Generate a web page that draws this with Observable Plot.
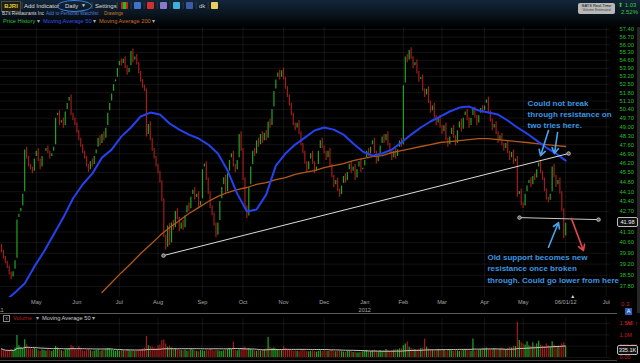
<!DOCTYPE html>
<html><head><meta charset="utf-8">
<script src="https://cdn.jsdelivr.net/npm/d3@7"></script>
<script src="https://cdn.jsdelivr.net/npm/@observablehq/plot@0.6"></script>
<style>
html,body{margin:0;padding:0;background:#000;}
#wrap{position:relative;width:640px;height:363px;overflow:hidden;background:#000;font-family:"Liberation Sans",Arial,sans-serif;}
.a{position:absolute;white-space:nowrap;line-height:1;}
#hdr{position:absolute;left:0;top:0;width:640px;height:27px;background:linear-gradient(to bottom,#13263a 0%,#0b1722 45%,#000 100%);}
.ic{position:absolute;top:2px;width:7px;height:7px;border-radius:1px;}
</style></head><body><div id="wrap">
<div id="hdr"></div>
<div class="a" style="left:1px;top:1px;width:18px;height:9px;background:#1e1c10;border:1px solid #4a4a3a;color:#e0cc3a;font-size:6px;font-weight:bold;text-align:center;line-height:9px;">BJRI</div>
<div class="a" style="left:21px;top:1px;color:#555;font-size:8px;">|</div>
<div class="a" style="left:24px;top:3px;color:#ddd;font-size:6px;">Add Indicator</div>
<div class="a" style="left:57px;top:0px;width:33px;height:10px;border:1.5px solid #3a86e8;border-radius:50%;"></div>
<div class="a" style="left:65px;top:3px;color:#ddd;font-size:6px;">Daily</div>
<div class="a" style="left:81px;top:3px;color:#ccc;font-size:5px;">▼</div>
<div class="a" style="left:91px;top:1px;color:#555;font-size:8px;">|</div>
<div class="a" style="left:95px;top:3px;color:#ddd;font-size:6px;">Settings</div>
<div class="a" style="left:116px;top:1px;color:#555;font-size:8px;">|</div>
<div class="ic" style="left:121px;background:linear-gradient(to right,#c22 0 33%,#2b2 33% 66%,#c22 66%);"></div>
<div class="a" style="left:130px;top:1px;color:#444;font-size:8px;">|</div>
<div class="ic" style="left:134px;background:#3f72c8;"></div>
<div class="a" style="left:143px;top:1px;color:#444;font-size:8px;">|</div>
<div class="ic" style="left:147px;background:#d03030;"></div>
<div class="a" style="left:156px;top:1px;color:#444;font-size:8px;">|</div>
<div class="ic" style="left:160px;background:#8a78c8;"></div>
<div class="a" style="left:169px;top:1px;color:#444;font-size:8px;">|</div>
<div class="ic" style="left:173px;background:#3db0e2;"></div>
<div class="a" style="left:182px;top:1px;color:#444;font-size:8px;">|</div>
<div class="ic" style="left:186px;background:#3b5ba8;"></div>
<div class="a" style="left:195px;top:1px;color:#444;font-size:8px;">|</div>
<div class="a" style="left:199px;top:3px;color:#ccc;font-size:6px;">dk</div>
<div class="a" style="left:207px;top:1px;color:#444;font-size:8px;">|</div>
<div class="ic" style="left:211px;background:#e8d060;"></div>
<div class="a" style="left:2px;top:12px;color:#ddd;font-size:4.6px;">BJ's Restaurants Inc</div>
<div class="a" style="left:46px;top:12px;color:#4d7fd6;font-size:4.6px;">Add to Personal Watchlist</div>
<div class="a" style="left:104px;top:12px;color:#c97a2a;font-size:4.6px;">Drawings</div>
<div class="a" style="left:3px;top:19px;color:#33bb33;font-size:5.7px;">Price History <span style="color:#aaa">▾</span></div>
<div class="a" style="left:43px;top:19px;color:#3050e6;font-size:5.7px;">Moving Average 50 <span style="color:#aaa">▾</span></div>
<div class="a" style="left:99px;top:19px;color:#c8701e;font-size:5.7px;">Moving Average 200 <span style="color:#aaa">▾</span></div>
<div class="a" style="left:578px;top:3px;width:37px;height:11px;background:#b8b8b8;border-radius:2px;text-align:center;">
  <div style="font-size:4px;color:#111;margin-top:1px;">BATS Real-Time</div>
  <div style="font-size:3.5px;color:#444;margin-top:1px;">Volume Estimated</div>
</div>
<div class="a" style="left:618px;top:2px;color:#34c834;font-size:6px;">⬆ 1.03</div>
<div class="a" style="left:621px;top:9px;color:#34c834;font-size:6px;">2.52%</div>
<div id="price" class="a" style="left:0;top:27px;"></div>
<div class="a" style="left:0;top:313px;width:617px;height:1px;background:#5a5a5a;"></div>
<div class="a" style="left:3px;top:315px;width:5px;height:5px;border:1px solid #888;color:#aaa;font-size:5px;line-height:5px;text-align:center;">x</div>
<div class="a" style="left:13px;top:316px;color:#b81c1c;font-size:5.7px;">Volume</div>
<div class="a" style="left:36px;top:316px;color:#aaa;font-size:5.7px;">▾</div>
<div class="a" style="left:42px;top:316px;color:#ccc;font-size:5.7px;">Moving Average 50 <span style="color:#aaa">▾</span></div>
<div id="vol" class="a" style="left:0;top:318px;"></div>
<div class="a" style="left:0;top:360px;width:617px;height:1px;background:#444;"></div>
<div class="a" style="left:621px;top:301px;color:#c42020;font-size:6px;">0.3</div>
<div class="a" style="left:625px;top:308px;width:7px;height:7px;background:#2d5fb8;color:#fff;font-size:5.5px;line-height:7px;text-align:center;">A</div>
<div class="a" style="left:637px;top:27px;width:3px;height:286px;background:#262626;"></div>
</div>
<script>
// ---- calendar (trading days per month, counted from 1 Apr 2011) ----
const monthTradingDays = [20,21,22,20,23,21,21,21,21,20,20,22,20,22,21,21];
const monthTickText = ["","May","Jun","Jul","Aug","Sep","Oct","Nov","Dec","Jan","Feb","Mar","Apr","May","06/01/12","Jul"];
const yearTickText  = ["2011","","","","","","","","","2012","","","","","",""];
const firstDataDay = 2;          // data start on the 3rd trading day of Apr 2011
const openingPrice = 40.4;

// ---- daily closes ----
const apr11 = [40.0,39.6,39.3,39.0,38.6,38.3,38.8,39.5,42.2,42.6,43.0,44.0,47.3,46.6,46.0,45.8,45.5,46.6];
const may11 = [47.2,46.4,45.8,46.8,47.0,47.4,47.0,46.6,47.0,47.5,49.8,50.2,49.2,49.6,49.0,50.3,51.0,51.5,50.0,49.6,49.2];
const jun11 = [48.6,48.0,47.5,47.0,46.6,46.0,45.6,46.4,46.0,46.8,47.3,48.2,47.6,48.5,48.0,49.0,50.2,51.0,51.8,52.6,53.0,54.0];
const jul11 = [54.6,54.2,54.8,54.0,53.4,54.0,55.5,54.5,55.0,54.3,53.5,52.8,52.3,52.0,48.3,49.3,48.0,47.2,46.6,46.0];
const aug11 = [45.5,44.8,43.5,41.0,40.2,41.8,40.5,42.0,41.5,42.8,42.2,41.4,42.0,41.5,42.5,43.2,42.8,43.8,44.3,43.6,44.0,43.0,43.5];
const sep11 = [45.8,46.2,45.0,44.0,43.0,42.5,41.8,41.0,42.0,43.5,44.5,45.2,44.0,45.5,46.5,47.0,46.0,45.6,46.5,48.5,47.2];
const oct11 = [45.0,43.0,42.3,44.5,46.0,47.2,46.8,48.0,47.5,48.5,47.8,48.6,48.0,49.5,49.0,50.5,52.0,53.0,53.6,53.0,53.8];
const nov11 = [53.0,52.2,51.5,50.8,50.0,49.2,48.8,49.4,48.5,47.6,47.0,46.2,45.6,46.4,47.0,46.2,45.5,46.0,47.2,48.0,47.4];
const dec11 = [47.0,46.5,47.2,46.0,45.2,44.5,45.0,44.2,43.8,44.6,45.3,44.8,45.6,46.2,45.5,46.0,45.0,45.8,46.4,45.6,45.9];
const jan12 = [46.5,47.2,46.8,47.5,48.0,47.0,46.2,46.8,47.6,48.3,47.8,48.5,47.6,47.0,46.5,47.2,46.6,47.3,48.0,47.5];
const feb12 = [52.5,55.0,54.5,55.6,54.8,54.0,54.5,53.5,52.8,53.2,52.0,51.5,52.2,51.0,50.2,50.8,49.8,49.2,49.8,49.0];
const mar12 = [48.5,49.2,48.0,47.5,48.3,49.0,48.2,47.6,48.8,49.5,48.7,49.8,50.3,49.6,49.0,49.8,50.5,49.8,49.2,50.0,50.6,50.2];
const apr12 = [50.8,51.3,50.2,49.5,48.8,49.3,48.5,47.8,48.4,47.6,47.2,47.8,47.0,46.5,47.1,46.2,46.6,43.8,44.2,43.2];
const may12 = [43.0,44.0,44.6,45.0,44.5,45.3,45.0,45.8,46.3,45.5,45.0,44.2,43.6,43.4,44.0,46.0,45.2,44.5,45.0,44.0,42.8,40.95];
const jun12 = [41.98];

// ---- daily volume (thousands) ----
const vApr11 = [380,320,260,310,290,350,300,420,970,520,430,400,780,560,420,380,350,400];
const vMay11 = [360,300,280,330,310,290,340,300,270,320,480,420,350,300,280,330,360,400,530,480,350];
const vJun11 = [330,480,360,300,280,320,350,300,260,290,310,330,280,300,320,350,400,380,330,300,280,310];
const vJul11 = [290,320,300,270,350,300,280,310,260,300,320,350,380,420,930,520,480,460,420,380];
const vAug11 = [520,560,750,770,600,450,500,420,380,400,350,330,310,300,320,280,300,350,330,300,280,260,310];
const vSep11 = [300,280,320,300,350,330,290,310,300,280,270,300,330,350,400,360,680,320,300,340,380];
const vOct11 = [420,450,380,400,350,330,300,280,310,290,320,350,380,880,450,400,420,380,350,330,310];
const vNov11 = [480,400,360,330,310,290,300,280,260,300,320,290,270,250,280,300,260,240,280,300,270];
const vDec11 = [300,280,260,290,310,270,250,280,300,260,240,230,260,280,250,220,240,200,210,230,250];
const vJan12 = [300,320,280,260,300,330,290,270,310,280,300,350,320,280,300,330,360,340,380,400];
const vFeb12 = [520,600,680,450,400,380,350,330,360,400,420,820,450,380,350,330,300,340,360,320];
const vMar12 = [300,320,280,350,330,300,280,310,290,270,300,320,350,330,300,280,820,290,300,330,350,400];
const vApr12 = [380,420,360,340,380,400,350,330,360,420,380,350,400,450,420,500,480,1560,750,650];
const vMay12 = [600,550,700,520,480,650,500,600,720,550,500,480,600,520,450,700,550,480,500,450,600,650];
const vJun12 = [450];

// ---- moving averages as drawn (sampled every 5 trading days) ----
const maStep = 5;
const ma50First = 4;
const ma50 = [36.94,37.43,37.98,39.04,40.01,41.13,42.28,43.61,44.62,45.41,46.61,47.22,48.23,48.95,49.83,50.15,49.99,49.27,48.78,48.39,
  48.08,47.61,46.92,45.64,43.96,42.70,42.84,43.89,46.01,46.92,47.61,48.15,48.71,48.95,48.78,48.39,47.69,47.07,46.76,46.92,
  47.22,47.77,48.39,48.95,49.43,49.83,50.24,50.56,50.64,50.32,50.15,49.99,49.51,48.95,48.47,47.92,47.38,46.92,46.38];
const ma200First = 54;
const ma200 = [37.43,38.05,38.66,39.24,39.88,40.46,41.06,41.60,42.07,42.56,42.97,43.40,43.76,44.04,44.25,44.40,44.62,44.76,44.98,45.12,
  45.35,45.50,45.64,45.86,46.01,46.16,46.38,46.54,46.69,46.76,46.99,47.15,47.30,47.46,47.61,47.77,47.84,47.92,48.00,48.07,
  48.07,48.00,47.92,47.84,47.77,47.69,47.61,47.53,47.46];

// ---- axis ticks ----
const yTicks = [57.40,56.70,56.00,55.30,54.60,53.90,53.20,52.50,51.80,51.10,50.40,49.70,49.00,48.30,47.60,46.90,46.20,45.50,44.80,44.10,43.40,42.70,41.30,40.60,39.90,39.20,38.50,37.80];
const volTicks = [1500,1000,500,0];
const volTickText = ["1.5M","1.0M","500.0K","0.00"];

// ---- drawings ----
const trendT = [85.85,295.5], trendP = [39.75,46.92];
const levelT = [270.1,311.0], levelP = [42.28,42.14];
const arrowsData = [
  {t1:285.1,p1:48.71,t2:281.0,p2:46.76,c:"#4aa3ea"},
  {t1:289.8,p1:48.55,t2:288.2,p2:46.92,c:"#4aa3ea"},
  {t1:285.1,p1:40.29,t2:290.3,p2:41.94,c:"#4aa3ea"},
  {t1:297.0,p1:42.21,t2:303.2,p2:40.07,c:"#e04848"}
];
const notes = [
  {t:274.3,p:51.39,text:"Could not break\nthrough resistance on\ntwo tries here."},
  {t:253.5,p:39.98,text:"Old support becomes new\nresistance once broken\nthrough. Could go lower from here"}
];
const lastPriceLabel = 41.98, lastVolLabel = 335.1;

// ---- build ----
const closes = [].concat(apr11,may11,jun11,jul11,aug11,sep11,oct11,nov11,dec11,jan12,feb12,mar12,apr12,may12,jun12);
const volumes = [].concat(vApr11,vMay11,vJun11,vJul11,vAug11,vSep11,vOct11,vNov11,vDec11,vJan12,vFeb12,vMar12,vApr12,vMay12,vJun12);
const rows = closes.map((c,i)=>({t:firstDataDay+i, open:i?closes[i-1]:openingPrice, close:c, vol:volumes[i]}));
rows.forEach(d=>d.col = d.close>=d.open ? "#22a322" : "#a31b1b");
const lastRow = rows.slice(-1);
const monthStarts = d3.cumsum([0].concat(monthTradingDays.slice(0,-1)));
const monthTicks = Array.from(monthStarts, (t,i)=>({t, label:monthTickText[i], year:yearTickText[i]}));
const ma50Rows = ma50.map((v,i)=>({t:ma50First+i*maStep, v}));
const ma200Rows = ma200.map((v,i)=>({t:ma200First+i*maStep, v}));
const trendRows = [{t1:trendT[0],p1:trendP[0],t2:trendT[1],p2:trendP[1]}];
const trendEnds = trendT.map((t,i)=>({t,p:trendP[i]}));
const levelRows = [{t1:levelT[0],p1:levelP[0],t2:levelT[1],p2:levelP[1]}];
const levelEnds = levelT.map((t,i)=>({t,p:levelP[i]}));

const xDomain = [1.48, 317.2];
const grid = {stroke:"#fff", strokeOpacity:0.075};
const font = "Liberation Sans, Arial, sans-serif";

const pricePlot = Plot.plot({
  width:640, height:286, marginLeft:0, marginRight:30, marginTop:0, marginBottom:16,
  style:{background:"transparent", fontFamily:font, overflow:"visible"},
  x:{domain:xDomain, axis:null},
  y:{type:"log", domain:[37.13,57.59]},
  color:{type:"identity"},
  marks:[
    Plot.gridY(yTicks, grid),
    Plot.gridX(monthStarts, grid),
    Plot.axisY(yTicks, {anchor:"right", tickSize:0, tickPadding:9, tickFormat:d=>d.toFixed(2), color:"#2cbf2c", fontSize:5.8}),
    Plot.text(monthTicks, {x:"t", text:"label", frameAnchor:"bottom", dy:6, fill:"#a8a8a8", fontSize:5.6}),
    Plot.text(monthTicks, {x:"t", text:"year", frameAnchor:"bottom", dy:14, fill:"#a8a8a8", fontSize:5.6}),
    Plot.text(lastRow, {x:"t", text:()=>"▲", frameAnchor:"bottom", dy:0, dx:7, fill:"#ddd", fontSize:5}),
    Plot.ruleX(rows, {x:"t", y1:"open", y2:"close", stroke:"col", strokeWidth:1.2, insetTop:-1.3, insetBottom:-1.3}),
    Plot.line(ma200Rows, {x:"t", y:"v", stroke:"#b3581a", strokeWidth:1.3, clip:true}),
    Plot.line(ma50Rows, {x:"t", y:"v", stroke:"#2541f0", strokeWidth:2, clip:true}),
    Plot.link(trendRows, {x1:"t1", y1:"p1", x2:"t2", y2:"p2", stroke:"#dcdcdc", strokeWidth:1}),
    Plot.dot(trendEnds, {x:"t", y:"p", r:1.8, fill:"#666", stroke:"#ccc", strokeWidth:0.8}),
    Plot.link(levelRows, {x1:"t1", y1:"p1", x2:"t2", y2:"p2", stroke:"#c8c8c8", strokeWidth:1}),
    Plot.dot(levelEnds, {x:"t", y:"p", r:1.8, fill:"#666", stroke:"#ccc", strokeWidth:0.8}),
    Plot.arrow(arrowsData, {x1:"t1", y1:"p1", x2:"t2", y2:"p2", stroke:"c", strokeWidth:1.6, headLength:6}),
    Plot.text(notes, {x:"t", y:"p", text:"text", textAnchor:"start", lineAnchor:"top", lineHeight:1.42, fill:"#3d96e0", fontSize:8, fontWeight:"bold", fontFamily:font})
  ]
});
document.getElementById("price").appendChild(pricePlot);

const volPlot = Plot.plot({
  width:640, height:44, marginLeft:0, marginRight:30, marginTop:0, marginBottom:5,
  style:{background:"transparent", fontFamily:font, overflow:"visible"},
  x:{domain:xDomain, axis:null},
  y:{domain:[0,1720]},
  color:{type:"identity"},
  marks:[
    Plot.gridY(volTicks, grid),
    Plot.gridX(monthStarts, grid),
    Plot.axisY(volTicks, {anchor:"right", tickSize:0, tickPadding:9, tickFormat:d=>volTickText[volTicks.indexOf(d)], color:"#c02020", fontSize:5.6}),
    Plot.ruleX(rows, {x:"t", y1:0, y2:"vol", stroke:"col", strokeWidth:1.2}),
    Plot.lineY(rows, Plot.windowY({k:50, anchor:"end", strict:false}, {x:"t", y:"vol", stroke:"#c8c8c8", strokeWidth:1}))
  ]
});
document.getElementById("vol").appendChild(volPlot);

// value boxes on the right axes
const wrap = document.getElementById("wrap");
function box(top, txt){
  const b = document.createElement("div");
  b.className = "a";
  b.style.cssText = `left:617px;top:${top-4.5}px;width:19px;height:8px;border:1px solid #bbb;border-radius:2px;background:#111;color:#eee;font-size:5.6px;line-height:8px;text-align:center;`;
  b.textContent = txt;
  wrap.appendChild(b);
}
box(27 + pricePlot.scale("y").apply(lastPriceLabel), lastPriceLabel.toFixed(2));
box(318 + volPlot.scale("y").apply(lastVolLabel), lastVolLabel.toFixed(1) + "K");
</script>
</body></html>
